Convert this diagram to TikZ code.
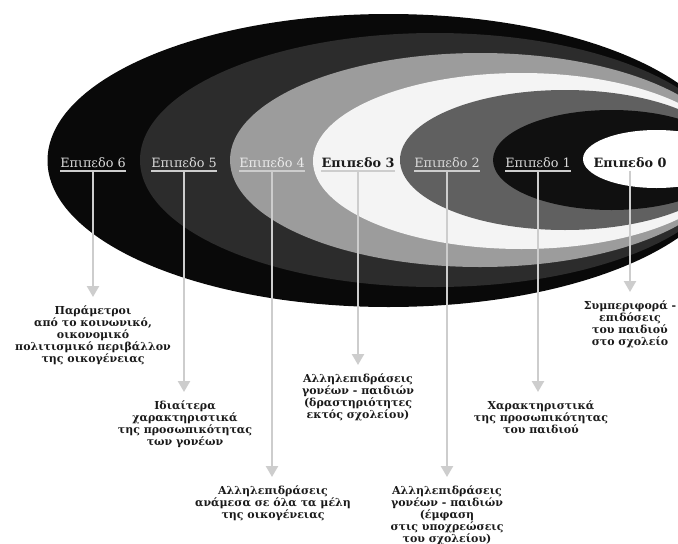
\documentclass[tikz,border=0pt]{standalone}
\usepackage{fontspec}
\setmainfont{DejaVu Serif}
\usetikzlibrary{arrows.meta}
\definecolor{lvsix}{HTML}{090909}
\definecolor{lvfive}{HTML}{2C2C2C}
\definecolor{lvfour}{HTML}{9C9C9C}
\definecolor{lvthree}{HTML}{F4F4F4}
\definecolor{lvtwo}{HTML}{606060}
\definecolor{lvone}{HTML}{101010}
\definecolor{lvzero}{HTML}{FFFFFF}
\definecolor{linegray}{HTML}{CDCDCD}
\definecolor{lighttext}{HTML}{DADADA}
\definecolor{darktext}{HTML}{1A1A1A}
\begin{document}
\begin{tikzpicture}[x=1pt,y=-1pt,
  lvl/.style={font=\fontsize{12.8}{15}\selectfont, inner xsep=0pt, inner ysep=1.5pt, text depth=2pt, anchor=base},
  lvllight/.style={lvl, text=lighttext},
  lvldark/.style={lvl, text=darktext, font=\fontsize{12.8}{15}\selectfont\bfseries},
  uline/.style={draw=linegray, line width=1.8pt},
  desc/.style={font=\fontsize{11}{12.2}\selectfont\bfseries, align=center, anchor=north, inner sep=0pt, text=darktext},
  conn/.style={draw=linegray, line width=2.3pt, -{Triangle[width=12pt,length=11pt]}, shorten >=8pt}
]
\useasboundingbox (0,0) rectangle (678,544);
\begin{scope}
\clip (0,0) rectangle (678,544);
\fill[white] (0,0) rectangle (678,544);
% nested ellipses (levels 6 .. 0)
\fill[lvsix]   (388.5,160.5) ellipse [x radius=341pt, y radius=146.5pt];
\fill[lvfive]  (435,160)     ellipse [x radius=295pt, y radius=127pt];
\fill[lvfour]  (480,160)     ellipse [x radius=250pt, y radius=107pt];
\fill[lvthree] (521.5,161)   ellipse [x radius=208.5pt, y radius=88pt];
\fill[lvtwo]   (565,160)     ellipse [x radius=165pt, y radius=70pt];
\fill[lvone]   (611.5,160)   ellipse [x radius=118.5pt, y radius=50pt];
\fill[lvzero]  (656.5,159)   ellipse [x radius=73.5pt, y radius=29pt];

% level labels
\node[lvllight] (l6) at (93,167)  {Επιπεδο 6};
\node[lvllight] (l5) at (184,167) {Επιπεδο 5};
\node[lvllight, text=white!92!black] (l4) at (272,167) {Επιπεδο 4};
\node[lvldark]  (l3) at (358,167) {Επιπεδο 3};
\node[lvllight] (l2) at (447,167) {Επιπεδο 2};
\node[lvllight] (l1) at (538,167) {Επιπεδο 1};
\node[lvldark]  (l0) at (630,167) {Επιπεδο 0};
\foreach \n in {l6,l5,l4,l3,l2,l1}{
  \draw[uline] (\n.south west) -- (\n.south east);
}

% descriptions
\node[desc] (d6) at (93,305) {Παράμετροι\\από το κοινωνικό,\\οικονομικό\\πολιτισμικό περιβάλλον\\της οικογένειας};
\node[desc] (d5) at (185,400) {Ιδιαίτερα\\χαρακτηριστικά\\της προσωπικότητας\\των γονέων};
\node[desc] (d4) at (273,485) {Αλληλεπιδράσεις\\ανάμεσα σε όλα τα μέλη\\της οικογένειας};
\node[desc] (d3) at (358,373) {Αλληλεπιδράσεις\\γονέων - παιδιών\\(δραστηριότητες\\εκτός σχολείου)};
\node[desc] (d2) at (447,485) {Αλληλεπιδράσεις\\γονέων - παιδιών\\(έμφαση\\στις υποχρεώσεις\\του σχολείου)};
\node[desc] (d1) at (541,400) {Χαρακτηριστικά\\της προσωπικότητας\\του παιδιού};
\node[desc] (d0) at (630,300) {Συμπεριφορά -\\επιδόσεις\\του παιδιού\\στο σχολείο};

% connectors
\draw[conn] (l6.south) -- (l6.south |- d6.north);
\draw[conn] (l5.south) -- (l5.south |- d5.north);
\draw[conn] (l4.south) -- (l4.south |- d4.north);
\draw[conn] (l3.south) -- (l3.south |- d3.north);
\draw[conn] (l2.south) -- (l2.south |- d2.north);
\draw[conn] (l1.south) -- (l1.south |- d1.north);
\draw[conn] (l0.south) -- (l0.south |- d0.north);
\end{scope}
\end{tikzpicture}
\end{document}
